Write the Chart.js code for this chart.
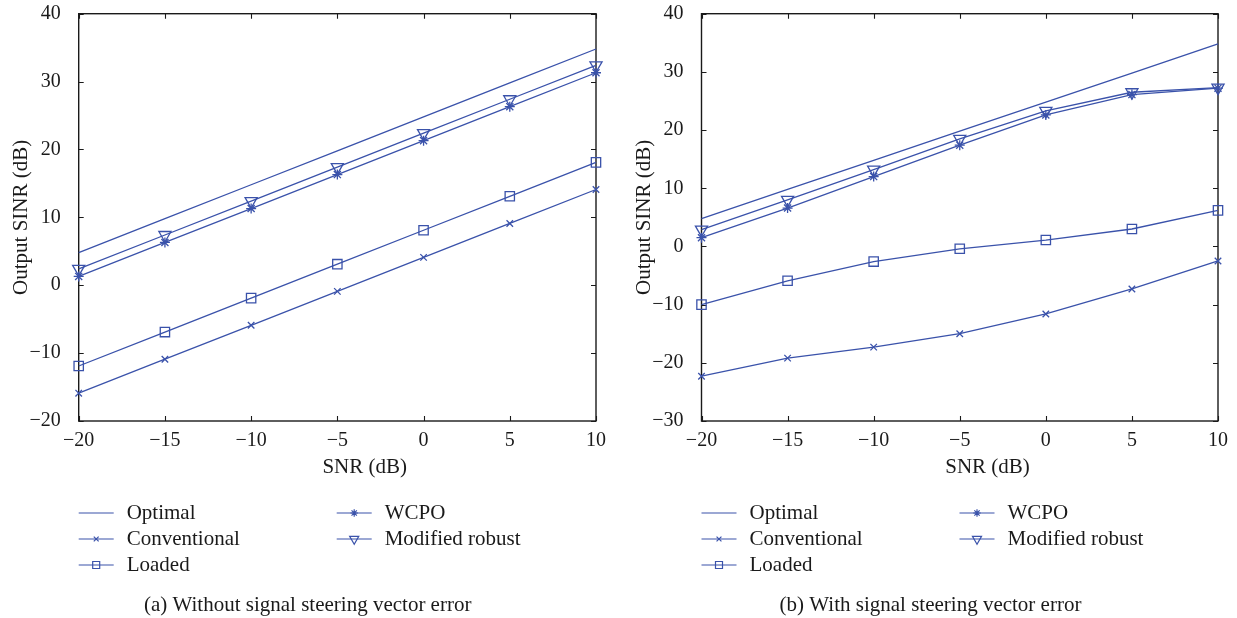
<!DOCTYPE html>
<html>
<head>
<meta charset="utf-8">
<script src="https://cdn.jsdelivr.net/npm/chart.js@4.4.1/dist/chart.umd.min.js"></script>
<style>
  body { margin: 0; background: #fff; width: 1237px; height: 618px; position: relative; overflow: hidden; }
  canvas { position: absolute; top: 0; }
</style>
</head>
<body>
<canvas id="panelA" width="618" height="618" style="left:0"></canvas>
<canvas id="panelB" width="619" height="618" style="left:618px"></canvas>
<script>
// SNR sweep shared by both panels
const snr = [-20, -15, -10, -5, 0, 5, 10];

// (a) no steering vector error
const optimalA = [4.8, 9.8, 14.8, 19.8, 24.8, 29.8, 34.8];
const conventionalA = [-15.9, -10.9, -5.9, -0.9, 4.1, 9.1, 14.1];
const loadedA = [-11.9, -6.9, -1.9, 3.1, 8.1, 13.1, 18.1];
const wcpoA = [1.3, 6.3, 11.3, 16.3, 21.3, 26.3, 31.3];
const modifiedA = [2.4, 7.4, 12.4, 17.4, 22.4, 27.4, 32.4];

// (b) with steering vector error
const optimalB = [4.8, 9.8, 14.8, 19.8, 24.8, 29.8, 34.8];
const conventionalB = [-22.3, -19.2, -17.3, -15.0, -11.6, -7.3, -2.5];
const loadedB = [-10.0, -5.9, -2.6, -0.4, 1.1, 3.0, 6.2];
const wcpoB = [1.5, 6.6, 12.0, 17.4, 22.6, 26.1, 27.2];
const modifiedB = [2.9, 8.0, 13.2, 18.5, 23.3, 26.5, 27.3];

const seriesNames = ['Optimal', 'Conventional', 'Loaded', 'WCPO', 'Modified robust'];
const xTicks = { min: -20, max: 10, step: 5 };
const yTicksA = { min: -20, max: 40, step: 10 };
const yTicksB = { min: -30, max: 40, step: 10 };

const BLUE = 'rgb(58, 82, 170)';
const SERIF = '"Liberation Serif", "Times New Roman", serif';

// marker for each curve, matlab-ish
const markers = [
  { pointStyle: false, pointRadius: 0 },
  { pointStyle: 'crossRot', pointRadius: 4.6 },
  { pointStyle: 'rect', pointRadius: 6.6 },
  { pointStyle: 'star', pointRadius: 5 },
  { pointStyle: 'triangle', pointRadius: 7, rotation: 180 }
];

const minus = v => (v < 0 ? '\u2212' + Math.abs(v) : String(v));

function drawMarker(ctx, m, x, y) {
  if (!m.pointStyle) return;
  ctx.save();
  ctx.strokeStyle = BLUE;
  ctx.fillStyle = 'rgba(0,0,0,0)';
  ctx.lineWidth = 1.2;
  Chart.helpers.drawPoint(ctx, { pointStyle: m.pointStyle, radius: m.pointRadius, rotation: m.rotation || 0, borderWidth: 1.2 }, x, y);
  ctx.restore();
}

// box, inward tick marks, axis titles, legend and caption
const decorations = {
  id: 'decorations',
  beforeDatasetsDraw(chart) {
    const { ctx, chartArea: a, scales: { x, y } } = chart;
    const len = 5;
    ctx.save();
    ctx.strokeStyle = '#1a1a1a';
    ctx.lineWidth = 1.4;
    ctx.strokeRect(a.left, a.top, a.width, a.height);
    ctx.lineWidth = 1.1;
    ctx.beginPath();
    x.ticks.forEach(t => {
      const px = Math.round(x.getPixelForValue(t.value)) + 0.5;
      ctx.moveTo(px, a.bottom); ctx.lineTo(px, a.bottom - len);
      ctx.moveTo(px, a.top); ctx.lineTo(px, a.top + len);
    });
    y.ticks.forEach(t => {
      const py = Math.round(y.getPixelForValue(t.value)) + 0.5;
      ctx.moveTo(a.left, py); ctx.lineTo(a.left + len, py);
      ctx.moveTo(a.right, py); ctx.lineTo(a.right - len, py);
    });
    ctx.stroke();
    ctx.restore();
  },
  afterDraw(chart, args, opts) {
    const { ctx, chartArea: a } = chart;
    ctx.save();
    ctx.fillStyle = '#1a1a1a';
    ctx.font = '21px ' + SERIF;
    ctx.textAlign = 'center';
    ctx.textBaseline = 'middle';
    ctx.fillText('SNR (dB)', a.left + 286, 467);
    ctx.save();
    ctx.translate(a.left - 57, (a.top + a.bottom) / 2);
    ctx.rotate(-Math.PI / 2);
    ctx.fillText('Output SINR (dB)', 0, 0);
    ctx.restore();

    // two-column legend
    const rowsY = [513, 539, 565];
    const cols = [0, 258];
    chart.data.datasets.forEach((ds, i) => {
      const col = i < 3 ? 0 : 1;
      const row = i < 3 ? i : i - 3;
      const x0 = a.left + cols[col];
      const yy = rowsY[row];
      ctx.strokeStyle = BLUE;
      ctx.lineWidth = 1.2;
      ctx.beginPath();
      ctx.moveTo(x0, yy); ctx.lineTo(x0 + 35, yy);
      ctx.stroke();
      drawMarker(ctx, { ...markers[i], pointRadius: markers[i].pointRadius * 0.75 }, x0 + 17.5, yy);
      ctx.fillStyle = '#1a1a1a';
      ctx.textAlign = 'left';
      ctx.fillText(ds.label, x0 + 48, yy);
    });

    ctx.textAlign = 'center';
    ctx.fillText(opts.caption, a.left + 229, 605);
    ctx.restore();
  }
};

function makePanel(id, series, yRange, caption, axisWidth, padRight) {
  const datasets = series.map((vals, i) => ({
    label: seriesNames[i],
    data: snr.map((s, k) => ({ x: s, y: vals[k] })),
    borderColor: BLUE,
    backgroundColor: 'transparent',
    borderWidth: 1.3,
    pointBorderColor: BLUE,
    pointBackgroundColor: 'transparent',
    pointBorderWidth: 1.3,
    pointStyle: markers[i].pointStyle,
    pointRadius: markers[i].pointRadius,
    pointRotation: markers[i].rotation || 0,
    tension: 0,
    clip: false
  }));

  return new Chart(document.getElementById(id), {
    type: 'line',
    data: { datasets },
    options: {
      responsive: false,
      animation: false,
      layout: { padding: { top: 13.7, right: padRight, bottom: 137, left: 0 } },
      plugins: {
        legend: { display: false },
        tooltip: { enabled: false },
        decorations: { caption }
      },
      scales: {
        x: {
          type: 'linear',
          min: xTicks.min, max: xTicks.max,
          grid: { display: false },
          border: { display: false },
          ticks: { stepSize: xTicks.step, color: '#1a1a1a', padding: 0, maxRotation: 0,
            font: { family: SERIF, size: 20 }, callback: minus },
          afterFit(s) { s.height = 60; s.paddingLeft = 0; s.paddingRight = 0; }
        },
        y: {
          min: yRange.min, max: yRange.max,
          grid: { display: false },
          border: { display: false },
          ticks: { stepSize: yRange.step, color: '#1a1a1a', padding: 10,
            font: { family: SERIF, size: 20 }, callback: minus },
          afterFit(s) { s.width = axisWidth; s.paddingTop = 0; s.paddingBottom = 0; }
        }
      }
    },
    plugins: [decorations]
  });
}

makePanel('panelA', [optimalA, conventionalA, loadedA, wcpoA, modifiedA], yTicksA,
  '(a) Without signal steering vector error', 78.7, 22);
makePanel('panelB', [optimalB, conventionalB, loadedB, wcpoB, modifiedB], yTicksB,
  '(b) With signal steering vector error', 83.5, 19);
</script>
</body>
</html>
